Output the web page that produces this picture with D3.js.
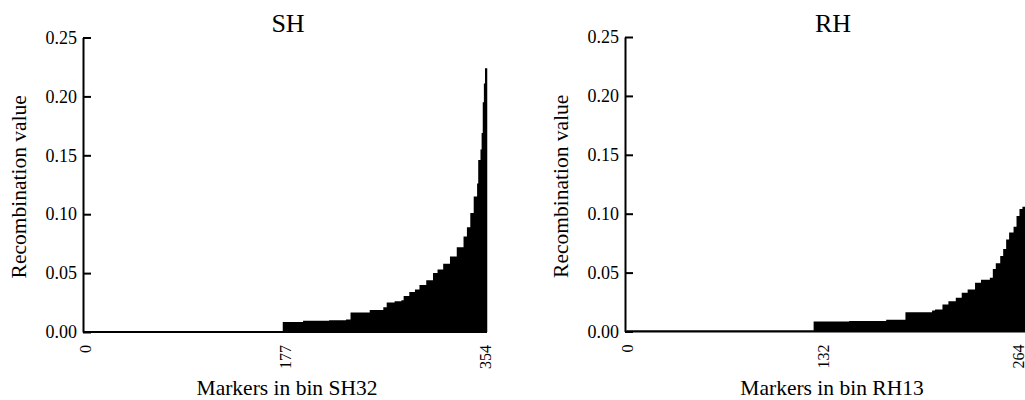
<!DOCTYPE html>
<html>
<head>
<meta charset="utf-8">
<script src="https://cdn.jsdelivr.net/npm/d3@7"></script>
<style>
  body { margin: 0; background: #fff; }
  svg text { font-family: "Liberation Serif", "Times New Roman", serif; fill: #000; }
  .axis path, .axis line { stroke: #000; stroke-width: 2; }
  .y-axis text { font-size: 18px; }
  .x-axis text { font-size: 16px; }
  .panel-title { font-size: 26px; }
  .axis-title { font-size: 21.5px; }
</style>
</head>
<body>
<svg id="chart" width="1025" height="400"></svg>
<script>
// markers sorted by recombination value, stored as runs:
// first marker index of each run and the value of that run
const shStart = [0, 175, 193, 216, 231, 235, 252, 264, 267, 274, 280, 282, 287, 292, 296, 302, 308, 312, 317, 323, 329, 335, 338, 341, 344, 347, 348, 350, 351, 352, 353, 354];
const shValue = [0.0008, 0.0085, 0.0095, 0.0100, 0.0107, 0.0165, 0.0187, 0.021, 0.025, 0.026, 0.027, 0.0306, 0.034, 0.036, 0.040, 0.044, 0.050, 0.053, 0.058, 0.064, 0.072, 0.081, 0.089, 0.101, 0.115, 0.126, 0.146, 0.155, 0.169, 0.195, 0.211, 0.224];
const shEnd = 356;

const rhStart = [0, 126, 150, 175, 188, 206, 208, 213, 217, 222, 226, 230, 235, 239, 245, 247, 249, 252, 254, 256, 258, 261, 263, 265, 267];
const rhValue = [0.0008, 0.0085, 0.009, 0.010, 0.0164, 0.0178, 0.0187, 0.023, 0.0257, 0.0286, 0.0329, 0.0357, 0.0414, 0.044, 0.0456, 0.053, 0.058, 0.064, 0.070, 0.078, 0.084, 0.089, 0.098, 0.104, 0.106];
const rhEnd = 270;

const yTicks = [0, 0.05, 0.10, 0.15, 0.20, 0.25];
const shTicks = [0, 177, 354];
const rhTicks = [0, 132, 264];

class RankPlot {
    constructor(_config, _data) {
        this.config = {
            parentElement: _config.parentElement,
            left: _config.left,
            top: _config.top || 37.5,
            width: _config.width || 404,
            height: _config.height || 294.5,
            xRange: _config.xRange,
            xMax: _config.xMax,
            xTicks: _config.xTicks,
            title: _config.title,
            axisTitleX: _config.axisTitleX,
            axisTitleY: _config.axisTitleY || 'Recombination value'
        }
        this.data = _data;
        this.initVis();
    }

    initVis() {
        let vis = this;

        vis.svg = d3.select(vis.config.parentElement);

        vis.chart = vis.svg.append('g')
            .attr('transform', `translate(${vis.config.left},${vis.config.top})`);

        vis.xScale = d3.scaleLinear()
            .domain([0, vis.config.xMax])
            .range(vis.config.xRange);

        vis.yScale = d3.scaleLinear()
            .domain([0, 0.25])
            .range([vis.config.height, 0]);

        vis.yAxis = d3.axisLeft(vis.yScale)
            .tickValues(yTicks)
            .tickFormat(d3.format('.2f'))
            .tickSizeInner(-8)
            .tickSizeOuter(0)
            .tickPadding(6);

        vis.xAxis = d3.axisBottom(vis.xScale)
            .tickValues(vis.config.xTicks)
            .tickSize(0);

        vis.areaG = vis.chart.append('g');

        vis.xAxisG = vis.chart.append('g')
            .attr('class', 'axis x-axis')
            .attr('transform', `translate(0,${vis.config.height})`);

        vis.yAxisG = vis.chart.append('g')
            .attr('class', 'axis y-axis');

        vis.chart.append('text')
            .attr('class', 'panel-title')
            .attr('x', vis.config.width / 2 + 3)
            .attr('y', -5.5)
            .style('text-anchor', 'middle')
            .text(vis.config.title);

        vis.chart.append('text')
            .attr('class', 'axis-title')
            .attr('x', vis.config.width / 2 + 2)
            .attr('y', vis.config.height + 63)
            .style('text-anchor', 'middle')
            .text(vis.config.axisTitleX);

        vis.chart.append('text')
            .attr('class', 'axis-title')
            .attr('transform', 'rotate(-90)')
            .attr('x', -(vis.config.height / 2 + 2))
            .attr('y', -57)
            .style('text-anchor', 'middle')
            .text(vis.config.axisTitleY);

        vis.updateVis();
    }

    updateVis() {
        let vis = this;

        let runs = vis.data.start.map((s, i) => ({x: s, v: vis.data.value[i]}));
        runs.push({x: vis.data.end, v: vis.data.value[vis.data.value.length - 1]});
        vis.runs = runs;

        vis.area = d3.area()
            .x(d => vis.xScale(d.x))
            .y0(vis.yScale(0))
            .y1(d => vis.yScale(d.v))
            .curve(d3.curveStepAfter);

        vis.renderVis();
    }

    renderVis() {
        let vis = this;

        vis.areaG.append('path')
            .datum(vis.runs)
            .attr('d', vis.area)
            .attr('fill', '#000')
            .attr('stroke', 'none');

        vis.yAxisG.call(vis.yAxis);

        vis.xAxisG.call(vis.xAxis);
        vis.xAxisG.select('.domain').remove();
        vis.xAxisG.insert('line', ':first-child')
            .attr('x1', 0)
            .attr('x2', vis.config.width)
            .attr('stroke', '#000')
            .attr('stroke-width', 2);

        vis.xAxisG.selectAll('.tick text')
            .attr('transform', 'rotate(-90)')
            .attr('x', -13)
            .attr('y', 0)
            .attr('dy', '0.35em')
            .style('text-anchor', 'end');
    }
}

new RankPlot({
    parentElement: '#chart',
    left: 83,
    width: 404,
    xRange: [2, 402],
    xMax: 354,
    xTicks: shTicks,
    title: 'SH',
    axisTitleX: 'Markers in bin SH32'
}, {start: shStart, value: shValue, end: shEnd});

new RankPlot({
    parentElement: '#chart',
    left: 625,
    top: 37,
    width: 410,
    xRange: [2, 393],
    xMax: 264,
    xTicks: rhTicks,
    title: 'RH',
    axisTitleX: 'Markers in bin RH13'
}, {start: rhStart, value: rhValue, end: rhEnd});
</script>
</body>
</html>
